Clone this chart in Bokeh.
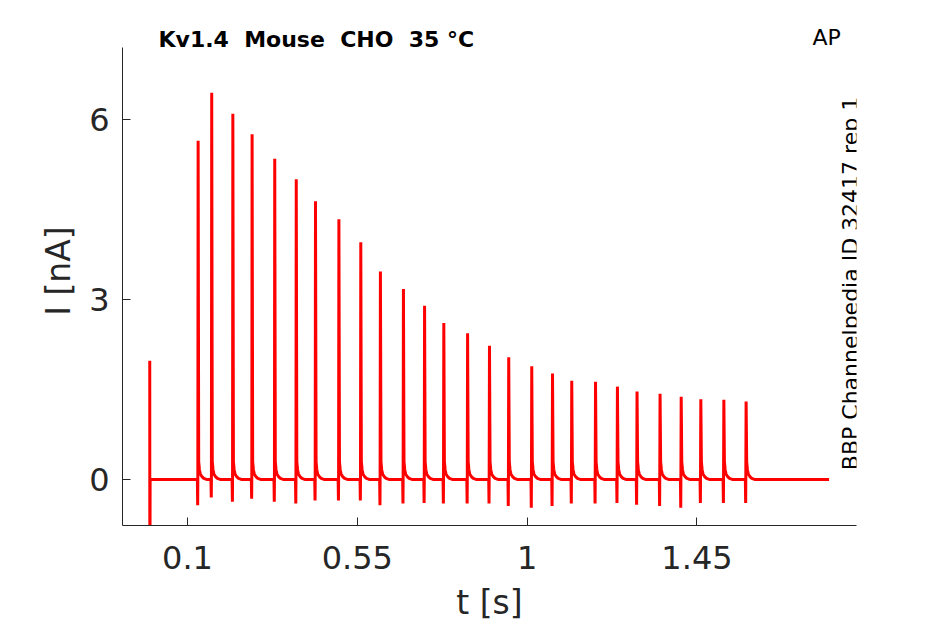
import math
from bokeh.plotting import figure
from bokeh.models import Range1d, FixedTicker, Label
from bokeh.embed import file_html
from bokeh.resources import INLINE

# ---- data ----
# spike times [s]; the first one is the stimulus artefact at t = 0
spike_t = [0.000, 0.127, 0.163, 0.219, 0.270, 0.330, 0.387, 0.438, 0.500,
           0.558, 0.610, 0.671, 0.727, 0.778, 0.841, 0.899, 0.950, 1.011,
           1.066, 1.117, 1.180, 1.238, 1.290, 1.351, 1.407, 1.459, 1.520,
           1.579]
artefact_peak = 1.98
artefact_trough = -2.08
# peak current of each spike after the artefact [nA]
peak_nA = [5.65, 6.45, 6.10, 5.76, 5.35, 5.01, 4.64, 4.34, 3.96, 3.47, 3.18,
           2.90, 2.61, 2.44, 2.23, 2.04, 1.89, 1.77, 1.65, 1.63, 1.55, 1.47,
           1.43, 1.38, 1.34, 1.33, 1.30]
# negative undershoot at each spike onset [nA]
trough_nA = [-0.43, -0.30, -0.37, -0.32, -0.37, -0.40, -0.35, -0.35, -0.35,
             -0.43, -0.40, -0.39, -0.40, -0.40, -0.40, -0.44, -0.47, -0.44,
             -0.40, -0.40, -0.39, -0.42, -0.44, -0.47, -0.39, -0.39, -0.39]
# decaying tail after each peak: time after peak [s] and current [nA]
tail_dt = [0.0015, 0.0035, 0.006, 0.010, 0.015, 0.024]
tail_nA = [0.30, 0.16, 0.09, 0.05, 0.02, 0.0]
t_end = 1.80
baseline = 0.0

x_ticks = [0.1, 0.55, 1, 1.45]
x_tick_labels = ["0.1", "0.55", "1", "1.45"]
y_ticks = [0, 3, 6]

# ---- build the trace ----
t = [spike_t[0], spike_t[0] + 0.0003, spike_t[0] + 0.0010]
y = [artefact_peak, artefact_trough, baseline]
for ts, P, U in zip(spike_t[1:], peak_nA, trough_nA):
    t += [ts - 0.0008, ts, ts + 0.0004, ts + 0.0012]
    y += [baseline, U, baseline, P]
    for dt, v in zip(tail_dt, tail_nA):
        t.append(ts + 0.0012 + dt)
        y.append(baseline + v)
t.append(t_end)
y.append(baseline)

# ---- figure ----
Y_LO, Y_AX_TOP, Y_HI = -0.766, 7.207, 7.723
p = figure(width=937, height=624, output_backend="svg", toolbar_location=None,
           x_range=Range1d(-0.0722, 1.8727), y_range=Range1d(Y_LO, Y_HI),
           min_border_left=122, min_border_right=81,
           min_border_top=16, min_border_bottom=98)
p.grid.visible = False
p.outline_line_color = None
p.background_fill_color = "white"
p.border_fill_color = "white"

p.line(t, y, line_color="#ff0000", line_width=3)

axc = "#262626"
for ax in (p.xaxis[0], p.yaxis[0]):
    ax.axis_line_color = axc
    ax.major_tick_line_color = axc
    ax.major_tick_in = 8
    ax.major_tick_out = 0
    ax.minor_tick_line_color = None
    ax.major_label_text_font = "DejaVu Sans"
    ax.major_label_text_font_size = "32px"
    ax.major_label_text_color = axc
    ax.axis_label_text_font = "DejaVu Sans"
    ax.axis_label_text_font_style = "normal"
    ax.axis_label_text_font_size = "33px"
    ax.axis_label_text_color = axc

p.xaxis.ticker = FixedTicker(ticks=x_ticks)
p.xaxis.major_label_overrides = dict(zip(x_ticks, x_tick_labels))
p.xaxis.axis_label = "t [s]"
p.xaxis.major_label_standoff = 20
p.xaxis.axis_label_standoff = 11

p.yaxis.ticker = FixedTicker(ticks=y_ticks)
p.yaxis.bounds = (Y_LO, Y_AX_TOP)
p.yaxis.axis_label = "I [nA]"
p.yaxis.major_label_standoff = 13
p.yaxis.axis_label_standoff = 8

p.add_layout(Label(x=36, y=486, x_units="screen", y_units="screen",
                   text="Kv1.4\u00a0 Mouse\u00a0 CHO\u00a0 35 °C",
                   text_font="DejaVu Sans",
                   text_font_style="bold", text_font_size="22px",
                   text_color="black", text_align="left",
                   text_baseline="middle"))
p.add_layout(Label(x=690, y=488, x_units="screen", y_units="screen",
                   text="AP", text_font="DejaVu Sans", text_font_size="22px",
                   text_color="black", text_align="left",
                   text_baseline="middle"))
p.add_layout(Label(x=727.5, y=242, x_units="screen", y_units="screen",
                   text="BBP Channelpedia ID 32417 rep 1",
                   text_font="DejaVu Sans", text_font_size="22px",
                   text_color="black", text_align="center",
                   text_baseline="middle", angle=math.pi / 2))

open("out.html", "w").write(file_html(p, INLINE))
